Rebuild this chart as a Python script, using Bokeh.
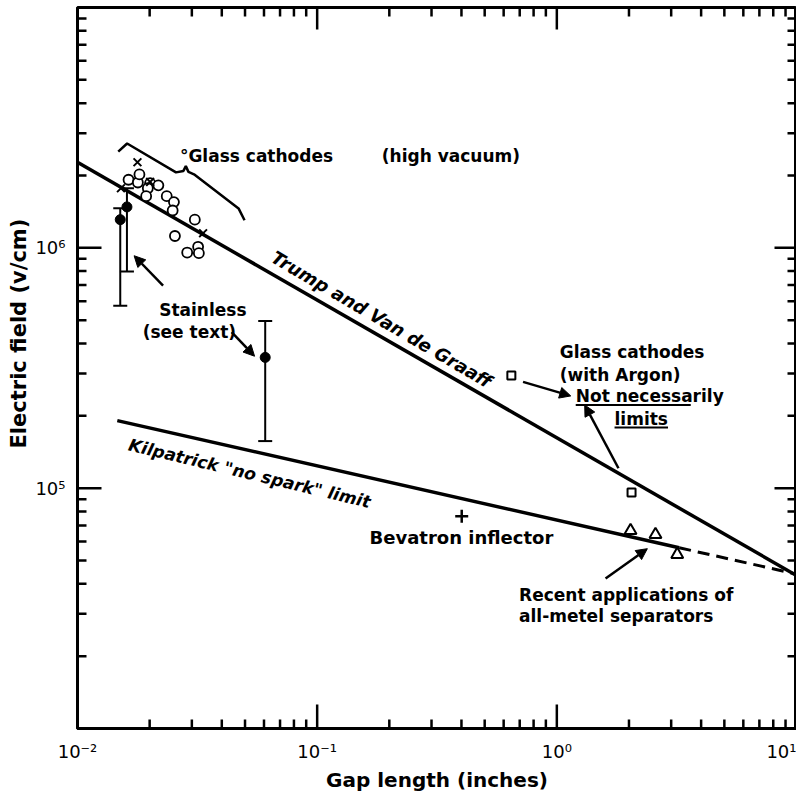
import math
from bokeh.plotting import figure
from bokeh.models import (FixedTicker, Label, Arrow, NormalHead, Whisker,
                          TeeHead, ColumnDataSource)
from bokeh.embed import file_html
from bokeh.resources import INLINE

# ---------------- data ----------------
# Glass cathodes (high vacuum) - open circles
glass_x = [0.01633, 0.01786, 0.01813, 0.02009, 0.01965, 0.02175, 0.01934, 0.02357,
           0.02526, 0.02495, 0.03087, 0.02550, 0.02869, 0.03186, 0.03209]
glass_y = [1.92e6, 1.87e6, 2.02e6, 1.86e6, 1.77e6, 1.82e6, 1.64e6, 1.64e6,
           1.55e6, 1.43e6, 1.31e6, 1.12e6, 9.56e5, 1.01e6, 9.51e5]
# crosses (x marks)
xmark_x = [0.01779, 0.01518, 0.02009, 0.03342]
xmark_y = [2.27e6, 1.77e6, 1.88e6, 1.15e6]
# Stainless (filled points with error bars)
stain_x = [0.01508, 0.01608, 0.0607]
stain_y = [1.31e6, 1.48e6, 3.50e5]
stain_lo = [5.74e5, 7.98e5, 1.57e5]
stain_hi = [1.46e6, 1.77e6, 4.96e5]
# Glass cathodes with Argon (squares)
argon_x = [0.646, 2.05]
argon_y = [2.94e5, 9.6e4]
# Recent applications of all-metal separators (triangles)
sep_x = [2.03, 2.58, 3.18]
sep_y = [6.66e4, 6.41e4, 5.30e4]
# Bevatron inflector (plus)
bev_x = [0.401]
bev_y = [7.64e4]
# Trump and Van de Graaff line
trump_x = [0.01, 10.0]
trump_y = [2.27e6, 4.33e4]
# Kilpatrick "no spark" limit (solid + dashed extension)
kil_x = [0.01466, 3.24]
kil_y = [1.91e5, 5.65e4]
kil_ext_x = [3.24, 10.0]
kil_ext_y = [5.65e4, 4.39e4]
# brace around glass cathodes (log10 x, log10 y)
brace_lx = [-1.830, -1.793, -1.589, -1.558, -1.548, -1.537, -1.514, -1.328, -1.303]
brace_ly = [6.40, 6.434, 6.314, 6.320, 6.34, 6.316, 6.306, 6.164, 6.115]

x_major = [0.01, 0.1, 1.0, 10.0]
x_tick_labels = {0.01: "10\u207b\u00b2", 0.1: "10\u207b\u00b9", 1.0: "10\u2070", 10.0: "10\u00b9"}
y_major = [1e5, 1e6]
y_tick_labels = {1e5: "10\u2075", 1e6: "10\u2076"}

FONT_NAME = "DejaVu Sans"
X_LO, X_HI = 0.01, 10.0
Y_LO, Y_HI = 1e4, 1e7

def minor_list(lo_exp, hi_exp):
    return [k * 10.0 ** e for e in range(lo_exp, hi_exp) for k in range(2, 10)]

x_minor = minor_list(-2, 1)
y_minor = minor_list(4, 7)

p = figure(width=796, height=794, x_axis_type="log", y_axis_type="log",
           x_range=(X_LO, X_HI), y_range=(Y_LO, Y_HI),
           output_backend="svg", toolbar_location=None,
           title="Electric   field   (v/cm)", title_location="left",
           min_border_left=77, min_border_right=0, min_border_top=7,
           min_border_bottom=63)
p.title.text_font = FONT_NAME
p.title.text_font_size = "21px"
p.title.text_font_style = "bold"
p.title.text_color = "black"
p.title.align = "left"
p.title.offset = 280
p.title.standoff = 4

p.background_fill_color = "white"
p.border_fill_color = "white"
p.outline_line_color = "black"
p.outline_line_width = 3
p.xgrid.visible = False
p.ygrid.visible = False

def style_axis(ax):
    ax.axis_line_width = 3
    ax.axis_line_color = "black"
    ax.major_tick_in = 0
    ax.major_tick_out = 0
    ax.minor_tick_in = 0
    ax.minor_tick_out = 0
    ax.major_tick_line_color = None
    ax.minor_tick_line_color = None
    ax.major_label_text_font = FONT_NAME
    ax.major_label_text_font_size = "18px"
    ax.major_label_text_color = "black"
    ax.axis_label_text_font = FONT_NAME
    ax.axis_label_text_font_size = "20px"
    ax.axis_label_text_font_style = "bold"
    ax.axis_label_text_color = "black"

xa = p.xaxis[0]
ya = p.yaxis[0]
style_axis(xa)
style_axis(ya)
xa.ticker = FixedTicker(ticks=x_major, minor_ticks=x_minor)
ya.ticker = FixedTicker(ticks=y_major, minor_ticks=y_minor)
xa.axis_label = "Gap length (inches)"
xa.major_label_overrides = x_tick_labels
ya.major_label_overrides = y_tick_labels
xa.major_label_standoff = 12
xa.axis_label_standoff = 3
ya.major_label_standoff = 12

# ticks on all four edges, pointing inwards (lengths given in pixels,
# converted with the frame's pixels-per-decade); each side is one broken line
PX_PER_DEC_X = 719 / 3.0
PX_PER_DEC_Y = 722 / 3.0
NAN = float("nan")

def inward(v, px, per_dec, sign):
    return v * 10 ** (sign * px / per_dec)

def ticks_vertical_edge(edge, ys, px, sign):
    x1 = inward(edge, px, PX_PER_DEC_X, sign)
    xs, yy = [], []
    for y in ys:
        xs += [edge, x1, NAN]
        yy += [y, y, NAN]
    p.line(xs, yy, line_color="black", line_width=2.5)

def ticks_horizontal_edge(edge, xs_in, px, sign):
    y1 = inward(edge, px, PX_PER_DEC_Y, sign)
    xs, yy = [], []
    for x in xs_in:
        xs += [x, x, NAN]
        yy += [edge, y1, NAN]
    p.line(xs, yy, line_color="black", line_width=2.5)

ticks_vertical_edge(X_LO, y_major, 24, +1)
ticks_vertical_edge(X_LO, y_minor, 9, +1)
ticks_vertical_edge(X_HI, y_major, 22, -1)
ticks_vertical_edge(X_HI, y_minor, 9, -1)
ticks_horizontal_edge(Y_LO, x_major, 24, +1)
ticks_horizontal_edge(Y_LO, x_minor, 9, +1)
ticks_horizontal_edge(Y_HI, x_major, 22, -1)
ticks_horizontal_edge(Y_HI, x_minor, 9, -1)

# ---------------- lines ----------------
p.line(trump_x, trump_y, line_color="black", line_width=3.5)
p.line(kil_x, kil_y, line_color="black", line_width=3.5)
p.line(kil_ext_x, kil_ext_y, line_color="black", line_width=3, line_dash="12 7")

# brace
p.line([10 ** v for v in brace_lx], [10 ** v for v in brace_ly],
       line_color="black", line_width=2.5)

# ---------------- markers ----------------
p.scatter(glass_x, glass_y, marker="circle", size=10, fill_color="white",
          line_color="black", line_width=1.8)
p.scatter(xmark_x, xmark_y, marker="x", size=11, line_color="black", line_width=2)

src = ColumnDataSource(dict(x=stain_x, y=stain_y, lo=stain_lo, hi=stain_hi))
p.add_layout(Whisker(source=src, base="x", lower="lo", upper="hi",
                     line_color="black", line_width=2,
                     upper_head=TeeHead(size=14, line_width=2, line_color="black"),
                     lower_head=TeeHead(size=14, line_width=2, line_color="black")))
p.scatter("x", "y", source=src, marker="circle", size=10, fill_color="black",
          line_color="black")

p.scatter(argon_x, argon_y, marker="square", size=8, fill_color="white",
          line_color="black", line_width=2)
p.scatter(sep_x, sep_y, marker="triangle", size=12, fill_color="white",
          line_color="black", line_width=2)
p.scatter(bev_x, bev_y, marker="cross", size=13, line_color="black", line_width=2.5)

# ---------------- texts ----------------
def lab(x, y, text, align="left", angle=0.0, style="bold", size="17px"):
    p.add_layout(Label(x=x, y=y, text=text, text_align=align, text_baseline="middle",
                       angle=angle, text_font=FONT_NAME, text_font_style=style,
                       text_font_size=size, text_color="black"))

lab(0.02675, 2.40e6, "\u00b0Glass cathodes")
lab(0.186, 2.40e6, "(high vacuum)")
lab(0.186, 5.04e5, "Trump and Van de Graaff", align="center", angle=-0.53,
    style="bold italic", size="18px")
lab(0.0522, 1.153e5, "Kilpatrick \"no spark\" limit", align="center", angle=-0.235,
    style="bold italic", size="17px")
lab(0.03335, 5.49e5, "Stainless", align="center")
lab(0.02929, 4.46e5, "(see text)", align="center")
lab(0.3997, 6.21e4, "Bevatron inflector", align="center", size="18px")
lab(1.029, 3.68e5, "Glass  cathodes")
lab(1.029, 2.96e5, "(with Argon)")
lab(1.199, 2.42e5, "Not necessarily")
lab(1.741, 1.945e5, "limits")
lab(0.6956, 3.58e4, "Recent applications of")
lab(0.6956, 2.93e4, "all-metel separators")

# underlines
p.line([1.199, 3.62], [2.22e5, 2.22e5], line_color="black", line_width=2)
p.line([1.741, 2.91], [1.79e5, 1.79e5], line_color="black", line_width=2)

# ---------------- arrows ----------------
def arrow(x0, y0, x1, y1):
    p.add_layout(Arrow(x_start=x0, y_start=y0, x_end=x1, y_end=y1,
                       line_color="black", line_width=2.5,
                       end=NormalHead(size=11, fill_color="black", line_color="black")))

arrow(0.02275, 6.96e5, 0.01723, 9.27e5)
arrow(0.04396, 4.46e5, 0.0548, 3.54e5)
arrow(0.7227, 2.77e5, 1.143, 2.42e5)
arrow(1.808, 1.21e5, 1.307, 2.22e5)
arrow(1.597, 4.21e4, 2.386, 5.6e4)

open("out.html", "w").write(file_html(p, INLINE))
